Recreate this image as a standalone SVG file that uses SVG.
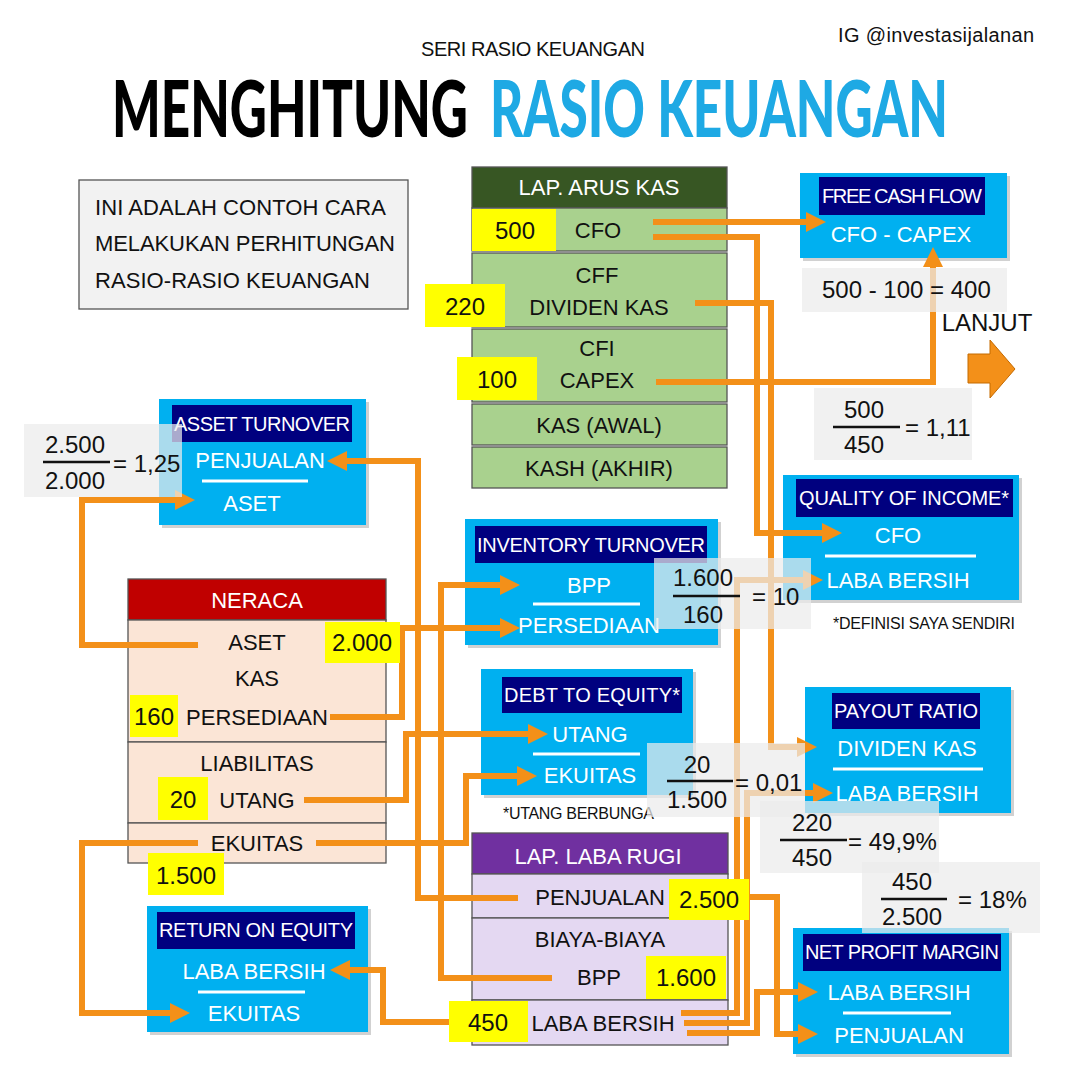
<svg xmlns="http://www.w3.org/2000/svg" width="1080" height="1080" viewBox="0 0 1080 1080">
<defs>
<style>
.t{font-family:"Liberation Sans",Arial,sans-serif;font-size:22px;fill:#111;text-anchor:middle}
.s{text-anchor:start}
.w{fill:#fff}
.ti{font-size:20px}
.n{font-size:24px}
.sm{font-size:16px;text-anchor:start}
.big{font-family:Lato,"Liberation Sans",sans-serif;font-weight:900;font-size:54px}
.con{fill:none;stroke:#f39019;stroke-width:6;stroke-linejoin:miter}
.blue{fill:#00b0f0}
.sh{fill:#9a9a9a;opacity:.45}
.navy{fill:#00007f}
.gray{fill:#ececec;opacity:.72}
.yel{fill:#ffff00}
.wl{stroke:#fff;stroke-width:3}
.bl{stroke:#111;stroke-width:2.5}
.tb{stroke:#555;stroke-width:1.3}
.grn{fill:#a9d18e}
.pch{fill:#fbe5d6}
.lav{fill:#e4d8f2}
</style>
<marker id="ah" markerUnits="userSpaceOnUse" markerWidth="20" markerHeight="20" viewBox="0 0 20 20" refX="12" refY="10" orient="auto">
<path d="M0,0 L20,10 L0,20 z" fill="#f39019"/>
</marker>
</defs>
<rect width="1080" height="1080" fill="#fff"/>

<g id="header">
<text class="t s" x="838" y="42" style="font-size:20px" textLength="196">IG @investasijalanan</text>
<text class="t" x="533" y="56" style="font-size:20px" textLength="224">SERI RASIO KEUANGAN</text>
<g transform="translate(112,137) scale(1,1.45)">
<text class="big" x="0" y="0" fill="#000" textLength="356" lengthAdjust="spacingAndGlyphs">MENGHITUNG</text>
</g>
<g transform="translate(490,137) scale(1,1.45)">
<text class="big" x="0" y="0" fill="#1ea9e4" textLength="458" lengthAdjust="spacingAndGlyphs">RASIO KEUANGAN</text>
</g>
</g>

<g id="intro">
<rect x="79" y="180" width="329" height="129" fill="#f2f2f2" stroke="#555" stroke-width="1.3"/>
<text class="t s" x="95" y="215" textLength="291">INI ADALAH CONTOH CARA</text>
<text class="t s" x="95" y="251" textLength="300">MELAKUKAN PERHITUNGAN</text>
<text class="t s" x="95" y="288" textLength="275">RASIO-RASIO KEUANGAN</text>
</g>

<g id="lap-arus-kas">
<rect x="472" y="167" width="255" height="41" fill="#375623" class="tb"/>
<text class="t w" x="599" y="195">LAP. ARUS KAS</text>
<rect x="472" y="208" width="255" height="43" class="grn tb"/>
<rect x="472" y="253" width="255" height="74" class="grn tb"/>
<rect x="472" y="329" width="255" height="73" class="grn tb"/>
<rect x="472" y="404" width="255" height="41" class="grn tb"/>
<rect x="472" y="447" width="255" height="41" class="grn tb"/>
<rect x="472" y="209" width="84" height="42" class="yel"/>
<rect x="425" y="284" width="80" height="43" class="yel"/>
<rect x="457" y="357" width="80" height="43" class="yel"/>
<text class="t n" x="515" y="239">500</text>
<text class="t" x="598" y="238">CFO</text>
<text class="t" x="597" y="283">CFF</text>
<text class="t n" x="465" y="315">220</text>
<text class="t" x="599" y="315">DIVIDEN KAS</text>
<text class="t" x="597" y="356">CFI</text>
<text class="t n" x="497" y="388">100</text>
<text class="t" x="597" y="388">CAPEX</text>
<text class="t" x="599" y="433">KAS (AWAL)</text>
<text class="t" x="599" y="476">KASH (AKHIR)</text>
</g>

<g id="neraca">
<rect x="128" y="579" width="258" height="41" fill="#c00000" class="tb"/>
<text class="t w" x="257" y="608">NERACA</text>
<rect x="128" y="620" width="258" height="122" class="pch tb"/>
<rect x="128" y="742" width="258" height="81" class="pch tb"/>
<rect x="128" y="823" width="258" height="40" class="pch tb"/>
<text class="t" x="257" y="650">ASET</text>
<text class="t" x="257" y="686">KAS</text>
<text class="t" x="257" y="725">PERSEDIAAN</text>
<text class="t" x="257" y="771">LIABILITAS</text>
<text class="t" x="257" y="808">UTANG</text>
<text class="t" x="257" y="851">EKUITAS</text>
</g>

<g id="lap-laba-rugi">
<rect x="472" y="833" width="256" height="41" fill="#7030a0" class="tb"/>
<text class="t w" x="598" y="864">LAP. LABA RUGI</text>
<rect x="472" y="874" width="256" height="44" class="lav tb"/>
<rect x="472" y="918" width="256" height="82" class="lav tb"/>
<rect x="472" y="1000" width="256" height="45" class="lav tb"/>
<text class="t" x="600" y="905">PENJUALAN</text>
<text class="t" x="600" y="947">BIAYA-BIAYA</text>
<text class="t" x="599" y="985">BPP</text>
<text class="t" x="603" y="1031">LABA BERSIH</text>
</g>

<g id="free-cash-flow">
<rect x="803" y="176" width="207" height="85" class="sh"/>
<rect x="800" y="173" width="207" height="85" class="blue"/>
<rect x="819" y="177" width="166" height="38" class="navy"/>
<text class="t w ti" x="902" y="203" textLength="160">FREE CASH FLOW</text>
<text class="t w" x="901" y="242">CFO - CAPEX</text>
</g>

<g id="asset-turnover">
<rect x="162" y="402" width="207" height="126" class="sh"/>
<rect x="159" y="399" width="207" height="126" class="blue"/>
<rect x="172" y="405" width="180" height="37" class="navy"/>
<text class="t w ti" x="262" y="431" textLength="176">ASSET TURNOVER</text>
<text class="t w" x="260" y="468">PENJUALAN</text>
<line x1="202" y1="481" x2="308" y2="481" class="wl"/>
<text class="t w" x="252" y="511">ASET</text>
</g>

<g id="inventory-turnover">
<rect x="468" y="522" width="253" height="126" class="sh"/>
<rect x="465" y="519" width="253" height="126" class="blue"/>
<rect x="475" y="526" width="232" height="37" class="navy"/>
<text class="t w ti" x="591" y="552" textLength="228">INVENTORY TURNOVER</text>
<text class="t w" x="589" y="593">BPP</text>
<line x1="533" y1="604" x2="640" y2="604" class="wl"/>
<text class="t w" x="589" y="633">PERSEDIAAN</text>
</g>

<g id="debt-to-equity">
<rect x="484" y="672" width="212" height="126" class="sh"/>
<rect x="481" y="669" width="212" height="126" class="blue"/>
<rect x="502" y="677" width="180" height="36" class="navy"/>
<text class="t w ti" x="592" y="702" textLength="176">DEBT TO EQUITY*</text>
<text class="t w" x="590" y="742">UTANG</text>
<line x1="533" y1="754" x2="640" y2="754" class="wl"/>
<text class="t w" x="590" y="783">EKUITAS</text>
<text class="t sm" x="503" y="819" textLength="151">*UTANG BERBUNGA</text>
</g>

<g id="quality-of-income">
<rect x="786" y="478" width="236" height="125" class="sh"/>
<rect x="783" y="475" width="236" height="125" class="blue"/>
<rect x="796" y="479" width="217" height="38" class="navy"/>
<text class="t w ti" x="904" y="505" textLength="210">QUALITY OF INCOME*</text>
<text class="t w" x="898" y="543">CFO</text>
<line x1="825" y1="556" x2="976" y2="556" class="wl"/>
<text class="t w" x="898" y="588">LABA BERSIH</text>
<text class="t sm" x="833" y="629" textLength="182">*DEFINISI SAYA SENDIRI</text>
</g>

<g id="payout-ratio">
<rect x="808" y="690" width="206" height="126" class="sh"/>
<rect x="805" y="687" width="206" height="126" class="blue"/>
<rect x="832" y="693" width="148" height="36" class="navy"/>
<text class="t w ti" x="906" y="718" textLength="144">PAYOUT RATIO</text>
<text class="t w" x="907" y="756">DIVIDEN KAS</text>
<line x1="833" y1="769" x2="983" y2="769" class="wl"/>
<text class="t w" x="907" y="801">LABA BERSIH</text>
</g>

<g id="return-on-equity">
<rect x="150" y="909" width="221" height="126" class="sh"/>
<rect x="147" y="906" width="221" height="126" class="blue"/>
<rect x="157" y="912" width="198" height="37" class="navy"/>
<text class="t w ti" x="256" y="937" textLength="194">RETURN ON EQUITY</text>
<text class="t w" x="254" y="979">LABA BERSIH</text>
<line x1="198" y1="992" x2="305" y2="992" class="wl"/>
<text class="t w" x="254" y="1021">EKUITAS</text>
</g>

<g id="net-profit-margin">
<rect x="796" y="931" width="216" height="126" class="sh"/>
<rect x="793" y="928" width="216" height="126" class="blue"/>
<rect x="803" y="934" width="198" height="37" class="navy"/>
<text class="t w ti" x="902" y="959" textLength="194">NET PROFIT MARGIN</text>
<text class="t w" x="899" y="1000">LABA BERSIH</text>
<line x1="843" y1="1013" x2="951" y2="1013" class="wl"/>
<text class="t w" x="899" y="1043">PENJUALAN</text>
</g>

<g id="lanjut">
<text class="t" x="987" y="331" style="font-size:24px">LANJUT</text>
<path d="M968,354 H990 V340 L1015,369 L990,398 V383 H968 Z" fill="#f39019" stroke="#c46a00" stroke-width="1"/>
</g>

<g id="connectors">
<path class="con" d="M653,222 H818" marker-end="url(#ah)"/>
<path class="con" d="M653,237 H757 V533 H834" marker-end="url(#ah)"/>
<path class="con" d="M695,303 H771 V747 H809" marker-end="url(#ah)"/>
<path class="con" d="M656,382 H933 V255" marker-end="url(#ah)"/>
<path class="con" d="M681,1013 H737 V580 H815" marker-end="url(#ah)"/>
<path class="con" d="M684,1023 H747 V793 H825" marker-end="url(#ah)"/>
<path class="con" d="M687,1033 H757 V992 H810" marker-end="url(#ah)"/>
<path class="con" d="M749,897 H777 V1034 H810" marker-end="url(#ah)"/>
<path class="con" d="M518,898 H418 V461 H335" marker-end="url(#ah)"/>
<path class="con" d="M552,978 H441 V585 H512" marker-end="url(#ah)"/>
<path class="con" d="M330,717 H402 V628 H512" marker-end="url(#ah)"/>
<path class="con" d="M198,645 H82 V500 H187" marker-end="url(#ah)"/>
<path class="con" d="M304,800 H406 V734 H540" marker-end="url(#ah)"/>
<path class="con" d="M316,843 H466 V776 H529" marker-end="url(#ah)"/>
<path class="con" d="M198,843 H82 V1013 H182" marker-end="url(#ah)"/>
<path class="con" d="M449,1022 H383 V970 H338" marker-end="url(#ah)"/>
</g>

<g id="values">
<rect x="325" y="622" width="75" height="41" class="yel"/>
<text class="t n" x="362" y="651">2.000</text>
<rect x="130" y="695" width="48" height="42" class="yel"/>
<text class="t n" x="154" y="725">160</text>
<rect x="158" y="777" width="50" height="43" class="yel"/>
<text class="t n" x="183" y="808">20</text>
<rect x="148" y="853" width="76" height="42" class="yel"/>
<text class="t n" x="186" y="884">1.500</text>
<rect x="669" y="879" width="80" height="41" class="yel"/>
<text class="t n" x="709" y="908">2.500</text>
<rect x="646" y="956" width="80" height="43" class="yel"/>
<text class="t n" x="686" y="986">1.600</text>
<rect x="449" y="1001" width="79" height="41" class="yel"/>
<text class="t n" x="488" y="1031">450</text>
</g>

<g id="calculations">
<rect x="802" y="268" width="205" height="44" class="gray"/>
<text class="t n s" x="822" y="298">500 - 100 = 400</text>

<rect x="814" y="388" width="158" height="72" class="gray"/>
<text class="t n" x="864" y="418">500</text>
<line x1="833" y1="427" x2="900" y2="427" class="bl"/>
<text class="t n" x="864" y="453">450</text>
<text class="t n s" x="905" y="436">= 1,11</text>

<rect x="24" y="424" width="158" height="73" class="gray"/>
<text class="t n" x="75" y="453">2.500</text>
<line x1="43" y1="462" x2="110" y2="462" class="bl"/>
<text class="t n" x="75" y="489">2.000</text>
<text class="t n s" x="113" y="472">= 1,25</text>

<rect x="654" y="558" width="157" height="71" class="gray"/>
<text class="t n" x="703" y="586">1.600</text>
<line x1="673" y1="596" x2="740" y2="596" class="bl"/>
<text class="t n" x="703" y="623">160</text>
<text class="t n s" x="752" y="605">= 10</text>

<rect x="647" y="743" width="158" height="74" class="gray"/>
<text class="t n" x="697" y="773">20</text>
<line x1="667" y1="781" x2="733" y2="781" class="bl"/>
<text class="t n" x="697" y="808">1.500</text>
<text class="t n s" x="735" y="791">= 0,01</text>

<rect x="760" y="801" width="179" height="72" class="gray"/>
<text class="t n" x="812" y="831">220</text>
<line x1="780" y1="840" x2="847" y2="840" class="bl"/>
<text class="t n" x="812" y="866">450</text>
<text class="t n s" x="848" y="850">= 49,9%</text>

<rect x="862" y="862" width="178" height="71" class="gray"/>
<text class="t n" x="912" y="890">450</text>
<line x1="881" y1="899" x2="947" y2="899" class="bl"/>
<text class="t n" x="912" y="925">2.500</text>
<text class="t n s" x="958" y="908">= 18%</text>
</g>
</svg>
